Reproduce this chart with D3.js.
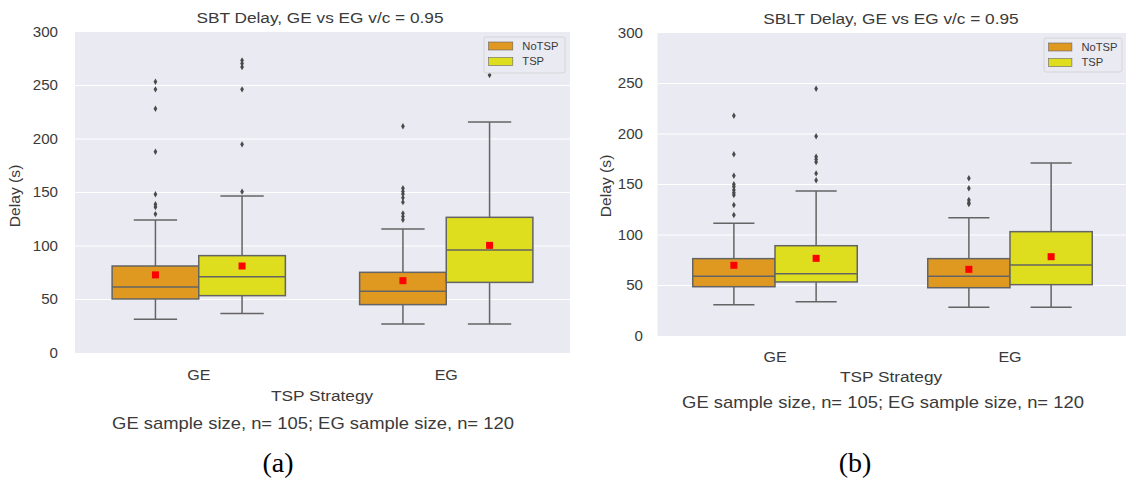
<!DOCTYPE html>
<html><head><meta charset="utf-8">
<script src="https://cdn.jsdelivr.net/npm/d3@7"></script>
<style>body{margin:0;background:#fff;}svg{display:block;}</style>
</head><body>
<svg id="c" width="1126" height="483"></svg>
<script>
// ---- data ----
const categories = ["GE", "EG"];
const hues = ["NoTSP", "TSP"];
const yTicks = [0, 50, 100, 150, 200, 250, 300];
const titles = ["SBT Delay, GE vs EG v/c = 0.95", "SBLT Delay, GE vs EG v/c = 0.95"];
const xTitle = "TSP Strategy";
const yTitle = "Delay (s)";
const note = "GE sample size, n= 105; EG sample size, n= 120";
const panelLabels = ["(a)", "(b)"];
// order of boxes: [GE-NoTSP, GE-TSP, EG-NoTSP, EG-TSP]
const a_low    = [31.5, 37, 27, 27];
const a_q1     = [50.5, 53.6, 45.2, 66];
const a_median = [61.7, 71.3, 57.6, 96.3];
const a_q3     = [81.3, 91, 75.4, 126.8];
const a_high   = [124.3, 146.7, 115.9, 215.9];
const a_mean   = [73, 81.3, 67.6, 100.6];
const a_outliers = [
  [253.5, 246.4, 228.3, 188, 148.3, 139, 136.5, 129.8],
  [273.5, 270.5, 267.3, 246.4, 195, 150.8],
  [212, 154, 151, 148.5, 145, 141, 130.5, 127.5, 124.5],
  [259.8]
];
const b_low    = [31, 34, 28.4, 28.4];
const b_q1     = [48.8, 53.5, 47.8, 50.8];
const b_median = [59.1, 61.7, 59.1, 70.3];
const b_q3     = [76.6, 89.4, 76.6, 103.3];
const b_high   = [111.6, 143.6, 117.1, 171.3];
const b_mean   = [70, 76.9, 66, 78.5];
const b_outliers = [
  [218, 180, 158.7, 150.2, 147.8, 144.6, 141.9, 139.6, 129.7, 119.8],
  [244.9, 197.7, 177.5, 174.9, 172.3, 161, 154.2],
  [156.1, 146.2, 134.7, 132, 130.7],
  []
];

// ---- styles ----
const colors = {NoTSP: "#df9820", TSP: "#dede1e"};
const edge = "#646464";
const textColor = "#3a3a3a";
const font = "'Liberation Sans', Arial, sans-serif";
const SX = 1.15; // horizontal stretch of the reference's text

function txt(g, x, y, str, size, sx, anchor, family, fill) {
  return g.append("text")
    .attr("transform", `translate(${x},${y}) scale(${sx},1)`)
    .attr("text-anchor", anchor || "middle")
    .attr("font-family", family || font).attr("font-size", size)
    .attr("fill", fill || textColor).text(str);
}

const panels = [
  {stats: {low: a_low, q1: a_q1, med: a_median, q3: a_q3, high: a_high, mean: a_mean, out: a_outliers},
   left: 75, right: 570, top: 32, bottom: 353, tickRight: 58, yTitleX: 20, yTitleY: 196,
   title: titles[0], titleX: 320, titleY: 22.5, xLabY: 380, xTitleX: 322, xTitleY: 401,
   noteX: 313, noteY: 429, lab: panelLabels[0], labX: 278, labY: 472,
   legend: {x: 484, y: 37, w: 81, h: 36}},
  {stats: {low: b_low, q1: b_q1, med: b_median, q3: b_q3, high: b_high, mean: b_mean, out: b_outliers},
   left: 657.5, right: 1127.5, top: 33, bottom: 336, tickRight: 643, yTitleX: 611, yTitleY: 186,
   title: titles[1], titleX: 891, titleY: 24, xLabY: 362, xTitleX: 891, xTitleY: 382,
   noteX: 883, noteY: 407.5, lab: panelLabels[1], labX: 855, labY: 472,
   legend: {x: 1044, y: 38, w: 78, h: 34}}
];

const svg = d3.select("#c");

panels.forEach(p => {
  const g = svg.append("g");
  const y = d3.scaleLinear().domain([0, 300]).range([p.bottom, p.top]);
  const x = d3.scaleBand().domain(categories).range([p.left, p.right]);
  const bw = x.bandwidth();
  const boxW = bw * 0.35;
  const hx = d3.scaleBand().domain(hues).range([-boxW, boxW]);

  g.append("rect").attr("x", p.left).attr("y", p.top)
    .attr("width", p.right - p.left).attr("height", p.bottom - p.top).attr("fill", "#eaeaf2");

  // grid
  g.selectAll("line.grid").data(yTicks.slice(1, -1)).join("line")
    .attr("x1", p.left).attr("x2", p.right)
    .attr("y1", d => y(d)).attr("y2", d => y(d))
    .attr("stroke", "#fff").attr("stroke-width", 1.2);

  // y axis labels
  const yAxis = d3.axisLeft(y).tickValues(yTicks).tickSize(0).tickPadding(0);
  const ya = g.append("g").attr("transform", `translate(${p.tickRight},0)`).call(yAxis);
  ya.select(".domain").remove();
  ya.selectAll("text").attr("font-family", font).attr("font-size", 14).attr("fill", textColor)
    .attr("transform", "scale(1.08,1)");

  // x axis labels
  const xAxis = d3.axisBottom(x).tickSize(0).tickPadding(0);
  const xa = g.append("g").attr("transform", `translate(0,${p.xLabY - 10})`).call(xAxis);
  xa.select(".domain").remove();
  xa.selectAll("text").attr("font-family", font).attr("font-size", 14).attr("fill", textColor)
    .attr("transform", `scale(${SX},1)`);

  // boxes
  const s = p.stats;
  categories.forEach((c, ci) => {
    hues.forEach((h, hi) => {
      const i = ci * 2 + hi;
      const x0 = x(c) + bw / 2 + hx(h);
      const cx = x0 + hx.bandwidth() / 2;
      const capW = boxW / 2;
      const gb = g.append("g");
      gb.append("line").attr("x1", cx).attr("x2", cx).attr("y1", y(s.q3[i])).attr("y2", y(s.high[i]))
        .attr("stroke", edge).attr("stroke-width", 1.5);
      gb.append("line").attr("x1", cx).attr("x2", cx).attr("y1", y(s.q1[i])).attr("y2", y(s.low[i]))
        .attr("stroke", edge).attr("stroke-width", 1.5);
      [s.high[i], s.low[i]].forEach(v => {
        gb.append("line").attr("x1", cx - capW / 2).attr("x2", cx + capW / 2)
          .attr("y1", y(v)).attr("y2", y(v)).attr("stroke", edge).attr("stroke-width", 1.5);
      });
      gb.append("rect").attr("x", x0).attr("y", y(s.q3[i]))
        .attr("width", hx.bandwidth()).attr("height", y(s.q1[i]) - y(s.q3[i]))
        .attr("fill", colors[h]).attr("stroke", edge).attr("stroke-width", 1.5);
      gb.append("line").attr("x1", x0).attr("x2", x0 + hx.bandwidth())
        .attr("y1", y(s.med[i])).attr("y2", y(s.med[i])).attr("stroke", edge).attr("stroke-width", 1.5);
      gb.selectAll("path.out").data(s.out[i]).join("path")
        .attr("d", d3.symbol(d3.symbolDiamond, 12))
        .attr("transform", d => `translate(${cx},${y(d)})`)
        .attr("fill", "#4a4a4a");
      gb.append("rect").attr("x", cx - 3.5).attr("y", y(s.mean[i]) - 3.5)
        .attr("width", 7).attr("height", 7).attr("fill", "#ff0000");
    });
  });

  // legend
  const L = p.legend;
  const lg = g.append("g");
  lg.append("rect").attr("x", L.x).attr("y", L.y).attr("width", L.w).attr("height", L.h)
    .attr("rx", 2).attr("fill", "#eaeaf2").attr("fill-opacity", 0.85)
    .attr("stroke", "#d6d6d6").attr("stroke-width", 1);
  hues.forEach((h, hi) => {
    const yy = L.y + 5 + hi * 15.5;
    lg.append("rect").attr("x", L.x + 4.5).attr("y", yy).attr("width", L.w * 0.3).attr("height", 8)
      .attr("fill", colors[h]).attr("stroke", edge).attr("stroke-width", 0.6);
    txt(lg, L.x + L.w * 0.3 + 14, yy + 7.8, h, 10, 1.12, "start");
  });

  // titles
  txt(g, p.titleX, p.titleY, p.title, 15, SX);
  txt(g, p.xTitleX, p.xTitleY, xTitle, 15, SX);
  g.append("text").attr("transform", `translate(${p.yTitleX},${p.yTitleY}) rotate(-90) scale(1.12,1)`)
    .attr("text-anchor", "middle").text(yTitle)
    .attr("font-family", font).attr("font-size", 14).attr("fill", textColor);
  txt(g, p.noteX, p.noteY, note, 16, SX);
  txt(g, p.labX, p.labY, p.lab, 28, 1, "middle", "'Liberation Serif', 'Times New Roman', serif", "#000");
});
</script>
</body></html>
